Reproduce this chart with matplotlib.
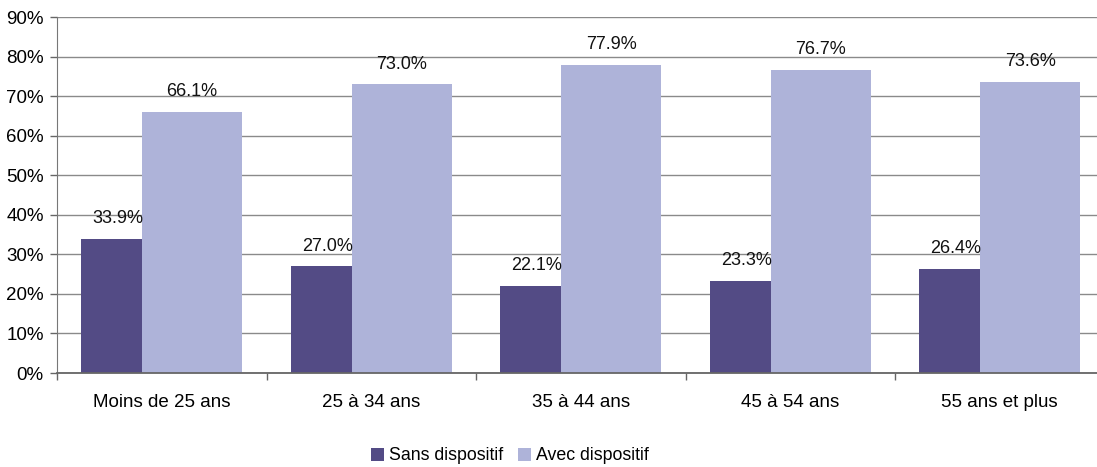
import matplotlib
matplotlib.use("Agg")
import matplotlib.pyplot as plt
import numpy as np

categories = ["Moins de 25 ans", "25 à 34 ans", "35 à 44 ans", "45 à 54 ans", "55 ans et plus"]
sans_dispositif = [33.9, 27.0, 22.1, 23.3, 26.4]
avec_dispositif = [66.1, 73.0, 77.9, 76.7, 73.6]
y_ticks = list(range(0, 91, 10))

plt.rcParams["font.family"] = ["Liberation Sans", "DejaVu Sans"]
plt.rcParams["font.size"] = 13

W, H = 1097, 467
fig = plt.figure(figsize=(W / 100, H / 100), dpi=100)
ax = fig.add_axes([57 / W, (H - 373) / H, (1104.5 - 57) / W, (373 - 17) / H])

x = np.arange(len(categories))
width = 0.477
off = 0.145
dark = "#534b85"
light = "#aeb3d9"

ax.bar(x - off, sans_dispositif, width, color=dark, label="Sans dispositif", zorder=2)
ax.bar(x + off, avec_dispositif, width, color=light, label="Avec dispositif", zorder=3)

for xi, v in zip(x, sans_dispositif):
    ax.annotate(f"{v:.1f}%", (xi - 0.21, v), xytext=(0, 14.5), textcoords="offset points",
                ha="center", va="center", fontsize=13, color="#111111")
for xi, v in zip(x, avec_dispositif):
    ax.annotate(f"{v:.1f}%", (xi + off, v), xytext=(0, 14.5), textcoords="offset points",
                ha="center", va="center", fontsize=13, color="#111111")

ax.set_xlim(-0.5, len(categories) - 0.5)
ax.set_ylim(0, 90)
ax.set_yticks(y_ticks)
ax.set_yticklabels([f"{t}%" for t in y_ticks], fontsize=13.5)
ax.yaxis.grid(True, color="#8a8a8a", linewidth=1.0, zorder=0)
ax.set_axisbelow(True)

ax.set_xticks(x)
ax.set_xticklabels(categories, fontsize=13.5)
ax.set_xticks(np.arange(-0.5, len(categories) + 0.5, 1), minor=True)
ax.tick_params(axis="x", which="major", length=0, pad=15)
ax.tick_params(axis="x", which="minor", length=5, width=1, color="#666666", direction="out")
ax.tick_params(axis="y", length=5, width=1, color="#666666", direction="out", pad=4.5)

for s in ["top", "right"]:
    ax.spines[s].set_visible(False)
ax.spines["left"].set_color("#777777")
ax.spines["bottom"].set_color("#666666")
ax.spines["bottom"].set_linewidth(1.3)
ax.spines["bottom"].set_zorder(4)

fig.legend(loc="center", bbox_to_anchor=(510 / W, (H - 456) / H), ncol=2, frameon=False,
           handlelength=0.75, handleheight=0.75, handletextpad=0.3, columnspacing=0.8,
           fontsize=12.8)

fig.savefig("out.png", dpi=100)
